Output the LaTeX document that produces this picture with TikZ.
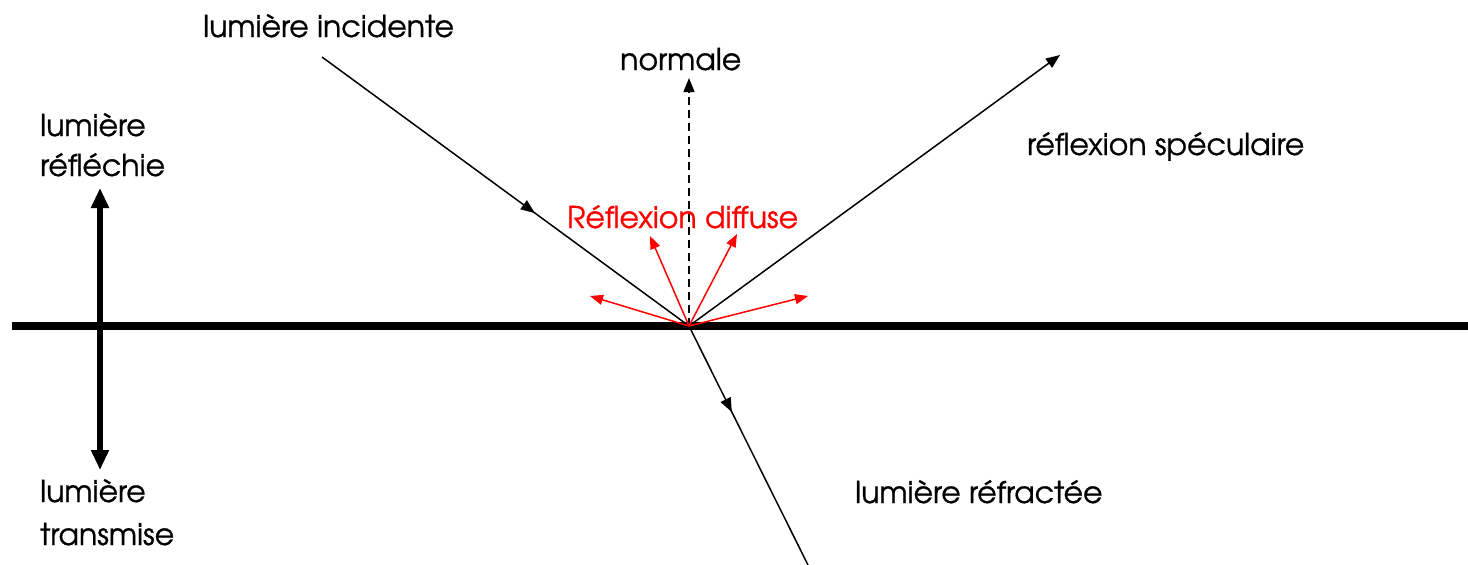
\documentclass[tikz,border=0pt]{standalone}
\usepackage{fontspec}
\setmainfont[FakeBold=0.8]{texgyreadventor-regular.otf}
\usetikzlibrary{arrows.meta,decorations.markings}
\begin{document}
\begin{tikzpicture}[x=1pt,y=-1pt,
  lbl/.style={font=\fontsize{30}{36}\selectfont, inner sep=0pt, anchor=base west},
  ray/.style={line width=1.5pt, black},
  tip/.style={-{Triangle[length=14pt,width=11pt]}},
  redray/.style={line width=1.5pt, red, -{Triangle[length=13pt,width=10pt]}},
  midarrow/.style={postaction={decorate}, decoration={markings, mark=at position #1 with {\arrow{Triangle[length=14pt,width=11pt]}}}}
]
\useasboundingbox (0,0) rectangle (1468,565);
% surface
\coordinate (sL) at (12,326);
\coordinate (sR) at (1468,326);
\draw[line width=8pt] (sL) -- (sR);
\coordinate (O) at (689,326);
% incident
\coordinate (I) at (322,57);
\draw[ray, midarrow=0.58] (I) -- (O);
% specular
\coordinate (S) at (1060,55);
\draw[ray, tip] (O) -- (S);
% normal
\coordinate (N) at (689,78);
\draw[ray, dashed, dash pattern=on 8pt off 5pt, tip] (O) -- (N);
% refracted
\coordinate (R) at (808,565);
\draw[ray, midarrow=0.36] (O) -- (R);
% diffuse
\coordinate (d1) at (590,296);
\coordinate (d2) at (650,236);
\coordinate (d3) at (737,234);
\coordinate (d4) at (808,296);
\foreach \d in {d1,d2,d3,d4} \draw[redray] (O) -- (\d);
% double arrow
\coordinate (vT) at (100,188);
\coordinate (vB) at (100,470);
\draw[line width=6pt, {Triangle[length=20pt,width=17pt]}-{Triangle[length=20pt,width=17pt]}] (vT) -- (vB);
% labels
\node[lbl] (tInc) at (203,37) {lumière incidente};
\node[lbl] (tNorm) at (620,70) {normale};
\node[lbl] (tRefl1) at (40,136) {lumière};
\node[lbl] (tRefl2) at (40,176) {réfléchie};
\node[lbl, text=red] (tDiff) at (567,228) {Réflexion diffuse};
\node[lbl] (tSpec) at (1027,155) {réflexion spéculaire};
\node[lbl] (tRefr) at (855,503) {lumière réfractée};
\node[lbl] (tTr1) at (40,502) {lumière};
\node[lbl] (tTr2) at (40,545) {transmise};
\end{tikzpicture}
\end{document}
